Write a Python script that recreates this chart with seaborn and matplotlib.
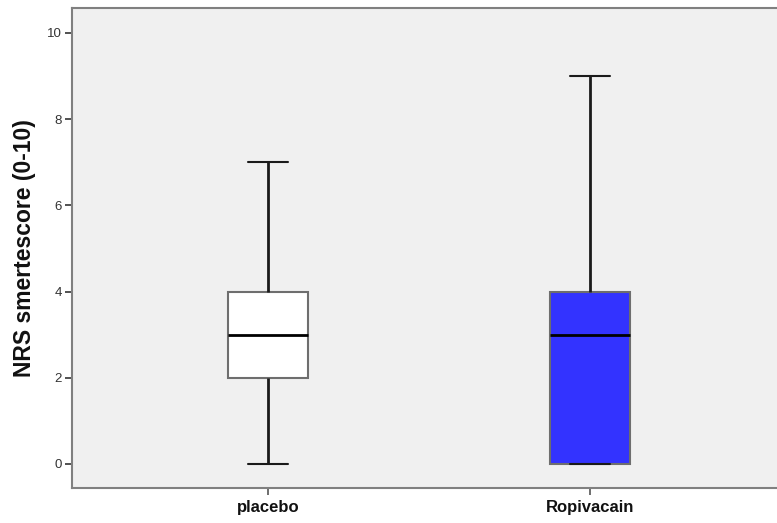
import pandas as pd
import seaborn as sns
import matplotlib.pyplot as plt

# NRS pain scores per group (raw values read to match the box statistics)
placebo = [0, 1, 2, 2, 2, 3, 3, 3, 4, 4, 4, 5, 7]
ropivacain = [0, 0, 0, 0, 1, 2, 3, 3, 4, 4, 4, 4, 9]
groups = ['placebo', 'Ropivacain']
box_colors = ['#FFFFFF', '#3333FF']

df = pd.DataFrame({
    'group': [groups[0]] * len(placebo) + [groups[1]] * len(ropivacain),
    'score': placebo + ropivacain,
})

sns.set_style('white')
plt.rcParams['font.family'] = ['Liberation Sans', 'DejaVu Sans']

fig = plt.figure(figsize=(7.77, 5.23), dpi=100)
ax = fig.add_axes([72 / 777, 35 / 523, 714 / 777, 480 / 523])
ax.set_facecolor('#F0F0F0')

sns.boxplot(data=df, x='group', y='score', hue='group', palette=box_colors,
            order=groups, width=0.25, whis=(0, 100), linewidth=1.5,
            saturation=1,
            boxprops=dict(edgecolor='#6E6E6E'),
            whiskerprops=dict(color='#1A1A1A', linewidth=2),
            capprops=dict(color='#1A1A1A', linewidth=1.5),
            medianprops=dict(color='#000000', linewidth=2),
            legend=False, ax=ax)

ax.set_xlim(-0.609, 1.609)
ax.set_ylim(-0.557, 10.58)
ax.set_yticks([0, 2, 4, 6, 8, 10])
ax.set_ylabel('NRS smertescore (0-10)', fontsize=16.5, fontweight='bold',
              color='#111111', labelpad=8)
ax.set_xlabel('')
ax.tick_params(axis='y', labelsize=9.5, length=5, width=1.2, color='#333333',
               labelcolor='#333333', direction='out', left=True, pad=2.5)
ax.tick_params(axis='x', labelsize=12, length=5, width=1.2, color='#555555',
               labelcolor='#111111', direction='out', bottom=True)
for lab in ax.get_xticklabels():
    lab.set_fontweight('bold')
for sp in ax.spines.values():
    sp.set_color('#808080')
    sp.set_linewidth(1.5)

fig.savefig('out.png', dpi=100)
